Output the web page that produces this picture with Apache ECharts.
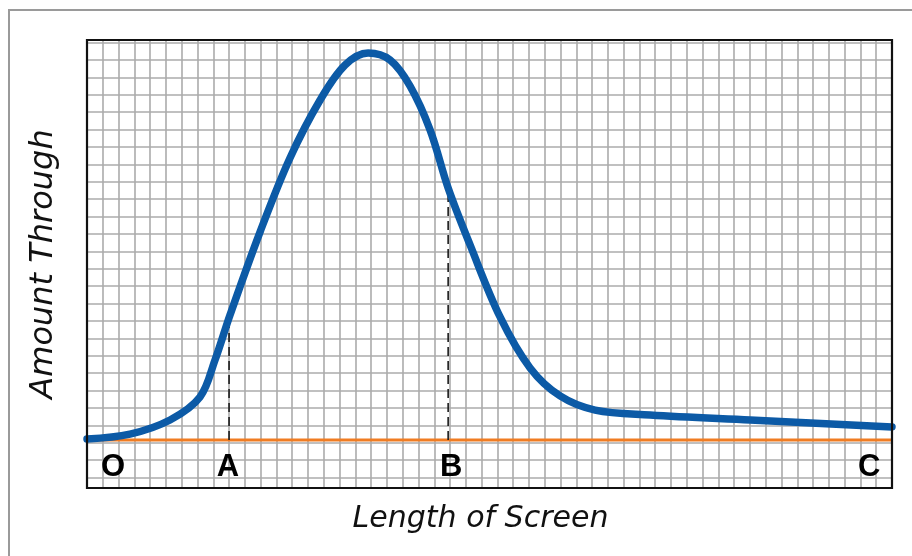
<!DOCTYPE html>
<html><head><meta charset="utf-8">
<script src="https://cdn.jsdelivr.net/npm/echarts@6/dist/echarts.min.js"></script>
<style>html,body{margin:0;padding:0;background:#fff}#c{width:912px;height:556px}</style>
</head><body><div id="c"></div>
<script>
// Data in grid units (x: columns 0..51, y: rows above bottom edge)
const curveX = [0, 2.72, 5.26, 7.16, 8.11, 9.06, 10.96, 12.86, 14.77, 16.35, 17.81, 19.20, 20.47, 21.74, 22.88, 24.27, 26.17, 28.07, 29.97, 32.19, 35.68, 42.02, 51];
const curveY = [2.82, 3.10, 3.91, 5.23, 7.36, 9.94, 14.71, 18.97, 22.30, 24.31, 25.00, 24.60, 23.10, 20.57, 17.24, 13.97, 9.83, 6.90, 5.29, 4.48, 4.20, 3.91, 3.51];
const baselineY = 2.76;
const dropX = [9.0, 22.88];
const dropTop = [9.94, 17.24];
const pointNames = ['O', 'A', 'B', 'C'];
const pointX = [1.65, 8.93, 23.07, 49.56];
const pointY = 1.2;
const xTitle = 'Length of Screen';
const yTitle = 'Amount Through';

const G = {left: 87, top: 40, width: 805, height: 448};
const gridColor = '#ababab';
const titleFont = {fontFamily: 'DejaVu Sans', fontStyle: 'italic', color: '#111'};

const series = [];
series.push({
  type: 'line', xAxisIndex: 0, yAxisIndex: 0, symbol: 'none', silent: true, z: 3,
  data: [[0, baselineY], [51, baselineY]],
  lineStyle: {color: '#f07c22', width: 3}
});
dropX.forEach((x, i) => series.push({
  type: 'line', xAxisIndex: 0, yAxisIndex: 0, symbol: 'none', silent: true, z: 3,
  data: [[x, baselineY], [x, dropTop[i]]],
  lineStyle: {color: '#1a1a1a', width: 1.6, type: [9, 5]}
}));
series.push({
  type: 'line', xAxisIndex: 0, yAxisIndex: 0, symbol: 'none', smooth: 0.35, silent: true, z: 5,
  data: curveX.map((x, i) => [x, curveY[i]]),
  lineStyle: {color: '#0c5aa6', width: 7.5, cap: 'round'}
});
series.push({
  type: 'scatter', xAxisIndex: 0, yAxisIndex: 0, symbolSize: 0, silent: true, z: 6,
  itemStyle: {opacity: 1},
  data: pointNames.map((n, i) => ({name: n, value: [pointX[i], pointY]})),
  label: {show: true, position: 'inside', formatter: '{b}', fontFamily: 'Liberation Sans', fontWeight: 'bold', fontSize: 31, color: '#000'}
});

const chart = echarts.init(document.getElementById('c'));
chart.setOption({
  animation: false,
  backgroundColor: '#fff',
  grid: [
    {left: G.left, top: G.top, width: G.width, height: G.height},
    {left: G.left, top: 42.6, width: G.width, height: 435}
  ],
  xAxis: [
    {type: 'value', gridIndex: 0, min: 0, max: 51, interval: 1,
     axisLine: {show: false}, axisTick: {show: false}, axisLabel: {show: false},
     splitLine: {show: true, lineStyle: {color: gridColor, width: 1.6}},
     name: xTitle, nameLocation: 'middle', nameGap: 16, nameTextStyle: Object.assign({fontSize: 30, padding: [0, 18, 0, 0]}, titleFont)},
    {type: 'value', gridIndex: 1, min: 0, max: 51, show: false}
  ],
  yAxis: [
    {type: 'value', gridIndex: 0, min: 0, max: 25.75,
     axisLine: {show: false}, axisTick: {show: false}, axisLabel: {show: false},
     splitLine: {show: false},
     name: yTitle, nameLocation: 'middle', nameGap: 27, nameTextStyle: Object.assign({fontSize: 32}, titleFont)},
    {type: 'value', gridIndex: 1, min: 0, max: 25, interval: 1,
     axisLine: {show: false}, axisTick: {show: false}, axisLabel: {show: false},
     splitLine: {show: true, lineStyle: {color: gridColor, width: 1.6}}}
  ],
  graphic: [
    {type: 'rect', z: 0, shape: {x: 9, y: 10, width: 1000, height: 1000},
     style: {fill: null, stroke: '#9a9a9a', lineWidth: 2}},
    {type: 'rect', z: 100, shape: {x: G.left, y: G.top, width: G.width, height: G.height},
     style: {fill: null, stroke: '#111', lineWidth: 2.2}}
  ],
  series: series
});
</script>
</body></html>
